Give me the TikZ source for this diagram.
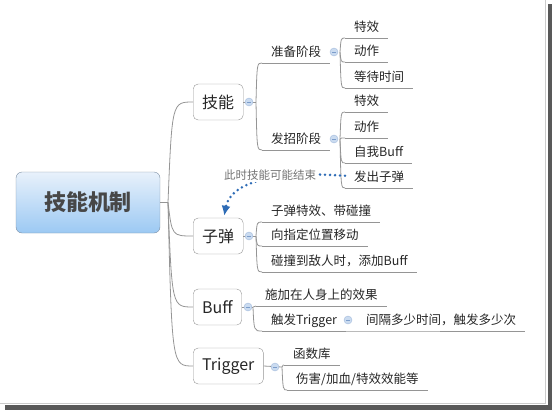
\documentclass[tikz,border=0pt]{standalone}
\usepackage{fontspec}
\setmainfont{Noto Sans CJK SC}
\usetikzlibrary{arrows.meta,calc}

\definecolor{rootTop}{HTML}{E8F1FB}
\definecolor{rootBot}{HTML}{9CC9F3}
\definecolor{rootEdge}{HTML}{7C8EA2}
\definecolor{lnGray}{HTML}{959595}
\definecolor{relBlue}{HTML}{2E6CB6}
\definecolor{knobFill}{HTML}{CADBF0}
\definecolor{knobLine}{HTML}{7C9DCB}

\tikzset{
  rootbox/.style={draw=rootEdge,rounded corners=6pt,top color=rootTop,bottom color=rootBot,minimum width=144pt,minimum height=61pt,font=\fontsize{22}{26}\selectfont\bfseries,text=black!72},
  topicbox/.style={draw=lnGray,fill=white,rounded corners=5pt,minimum height=36pt,inner xsep=9pt,font=\fontsize{16}{19}\selectfont,text=black!85},
  leaf/.style={inner xsep=9pt,inner ysep=3pt,text height=9pt,text depth=3pt,font=\fontsize{12.5}{14}\selectfont,text=black!85},
  branch/.style={draw=lnGray,line width=0.8pt},
  knob/.style={circle,draw=knobLine!70,fill=knobFill,minimum size=8pt,inner sep=0pt,
    path picture={\draw[knobLine,line width=0.8pt] ([xshift=-2pt]path picture bounding box.center) -- ([xshift=2pt]path picture bounding box.center);}},
  relation/.style={relBlue,line width=2.8pt,line cap=round,dash pattern=on 0pt off 5pt},
  note/.style={fill=white,inner sep=1.5pt,text=black!55,font=\fontsize{11.5}{13}\selectfont},
}

\begin{document}
\begin{tikzpicture}[x=1pt,y=-1pt]
\useasboundingbox (0,0) rectangle (552,410);
\pgfmathsetmacro{\kbend}{1}
% frame
\fill[black!65] (5,405) rectangle (552,410);
\fill[black!65] (548,4) rectangle (552,410);
\draw[black!20] (0,403.5) -- (545,403.5) -- (545,0);

\node[rootbox] (root) at (88,202.5) {技能机制};
\node[topicbox,anchor=west] (skill) at (193,102) {技能};
\node[topicbox,anchor=west] (bullet) at (193,236) {子弹};
\node[topicbox,anchor=west] (buff) at (193,307) {Buff};
\node[topicbox,anchor=west] (trig) at (193,366) {Trigger};
\coordinate (rj) at (168,202.5);
\draw[branch] (root.east) -- (rj);
\foreach \t in {skill,bullet,buff,trig}{\draw[branch] (rj) .. controls ($(rj|-\t.west)+(4,0)$) .. (\t.west);}

% 技能
\coordinate (jskill) at (256,102);
\draw[branch] (skill.east) -- (jskill);
\foreach \ly/\lb/\nm in {63/准备阶段/prep,150/发招阶段/cast}{
  \node[leaf,anchor=south west] (\nm) at (262,\ly) {\lb};
  \draw[branch] (\nm.south west) -- (\nm.south east);
  \draw[branch] (jskill) .. controls ($(jskill|-\nm.south west)+(\kbend,0)$) .. (\nm.south west);
}
\coordinate (jprep) at (340,52);
\coordinate (jcast) at (340,139);
\foreach \ly/\lb/\nm in {38/特效/pa,62/动作/pb,88/等待时间/pc}{
  \node[leaf,anchor=south west] (\nm) at (345,\ly) {\lb};
  \draw[branch] (\nm.south west) -- (\nm.south east);
  \draw[branch] (jprep) .. controls ($(jprep|-\nm.south west)+(\kbend,0)$) .. (\nm.south west);
}
\foreach \ly/\lb/\nm in {112/特效/qa,138/动作/qb,163/自我Buff/qc,188/发出子弹/qd}{
  \node[leaf,anchor=south west] (\nm) at (345,\ly) {\lb};
  \draw[branch] (\nm.south west) -- (\nm.south east);
  \draw[branch] (jcast) .. controls ($(jcast|-\nm.south west)+(\kbend,0)$) .. (\nm.south west);
}

% 子弹
\coordinate (jbullet) at (256,236);
\draw[branch] (bullet.east) -- (jbullet);
\foreach \ly/\lb/\nm in {222/子弹特效、带碰撞/ba,246/向指定位置移动/bb,272/碰撞到敌人时，添加Buff/bc}{
  \node[leaf,anchor=south west] (\nm) at (262,\ly) {\lb};
  \draw[branch] (\nm.south west) -- (\nm.south east);
  \draw[branch] (jbullet) .. controls ($(jbullet|-\nm.south west)+(\kbend,0)$) .. (\nm.south west);
}

% Buff
\coordinate (jbuff) at (253,307);
\draw[branch] (buff.east) -- (jbuff);
\foreach \lx/\ly/\lb/\nm in {256/306/施加在人身上的效果/fa,262/331/触发Trigger/fb}{
  \node[leaf,anchor=south west] (\nm) at (\lx,\ly) {\lb};
  \draw[branch] (\nm.south west) -- (\nm.south east);
  \draw[branch] (jbuff) .. controls ($(jbuff|-\nm.south west)+(\kbend,0)$) .. (\nm.south west);
}
\node[leaf,anchor=south west] (fc) at (357,331) {间隔多少时间，触发多少次};
\draw[branch] (fb.south east) -- (fc.south west) -- (fc.south east);

% Trigger
\coordinate (jtrig) at (282,367);
\draw[branch] (trig.east) -- (jtrig);
\foreach \lx/\ly/\lb/\nm in {284/365/函数库/ta,287/390/{伤害/加血/特效效能等}/tb}{
  \node[leaf,anchor=south west] (\nm) at (\lx,\ly) {\lb};
  \draw[branch] (\nm.south west) -- (\nm.south east);
  \draw[branch] (jtrig) .. controls ($(jtrig|-\nm.south west)+(\kbend,0)$) .. (\nm.south west);
}

% collapse knobs
\foreach \kx/\ky/\nm in {249/102/kskill,334/52/kprep,334/139/kcast,249/236/kbullet,248/307/kbuff,275/367/ktrig,348/320/kfire}{
  \node[knob] (\nm) at (\kx,\ky) {};
}

% relation
\draw[relation,-{Latex[length=10pt,width=9pt]}] ([yshift=3pt]qd.west) .. controls (270,170) and (230,184) .. ([xshift=6pt,yshift=2pt]bullet.north);
\node[note] (endnote) at (270,175) {此时技能可能结束};
\end{tikzpicture}
\end{document}
